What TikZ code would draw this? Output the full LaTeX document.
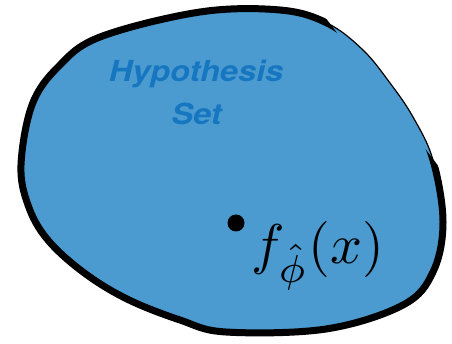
\documentclass[tikz,border=0pt]{standalone}
\usepackage{fontspec}
\newfontfamily\hfont{TeX Gyre Heros}
\definecolor{blobfill}{RGB}{75,155,209}
\definecolor{hyptext}{RGB}{22,119,192}
\begin{document}
\begin{tikzpicture}[x=1pt,y=-1pt,
  blobtext/.style={text=hyptext,font=\hfont\bfseries\itshape\fontsize{29}{34}\selectfont,inner sep=0pt,anchor=base,xscale=1.12},
  dotmark/.style={circle,fill=black,inner sep=0pt,minimum size=17pt}]
\useasboundingbox (0,0) rectangle (452,344);
\def\blobpath{plot[smooth cycle,tension=0.6] coordinates {
 (200,12) (280,10) (327,23) (363,50) (390,83) (413,117) (433,160)
 (443,222) (433,272) (403,305) (326,329) (226,332) (180,320)
 (127,299) (83,272) (47,239) (28,205) (21,165) (32,105) (58,67) (100,37)}}
\fill[blobfill] \blobpath;
\draw[line width=1.2pt] \blobpath;
\begin{scope}
\clip (0,0) -- (312,0) -- (452,184) -- (452,344) -- (0,344) -- cycle;
\draw[line width=7pt] \blobpath;
\end{scope}
\node[blobtext] (hyp) at (196,82) {Hypothesis};
\node[blobtext] (set) at (196.5,125) {Set};
\node[dotmark] (dot) at (236,223) {};
\node[anchor=base west,inner sep=0pt] (f) at (251,264) {\scalebox{5.6}{$f_{\hat\phi}(x)$}};
\end{tikzpicture}
\end{document}
